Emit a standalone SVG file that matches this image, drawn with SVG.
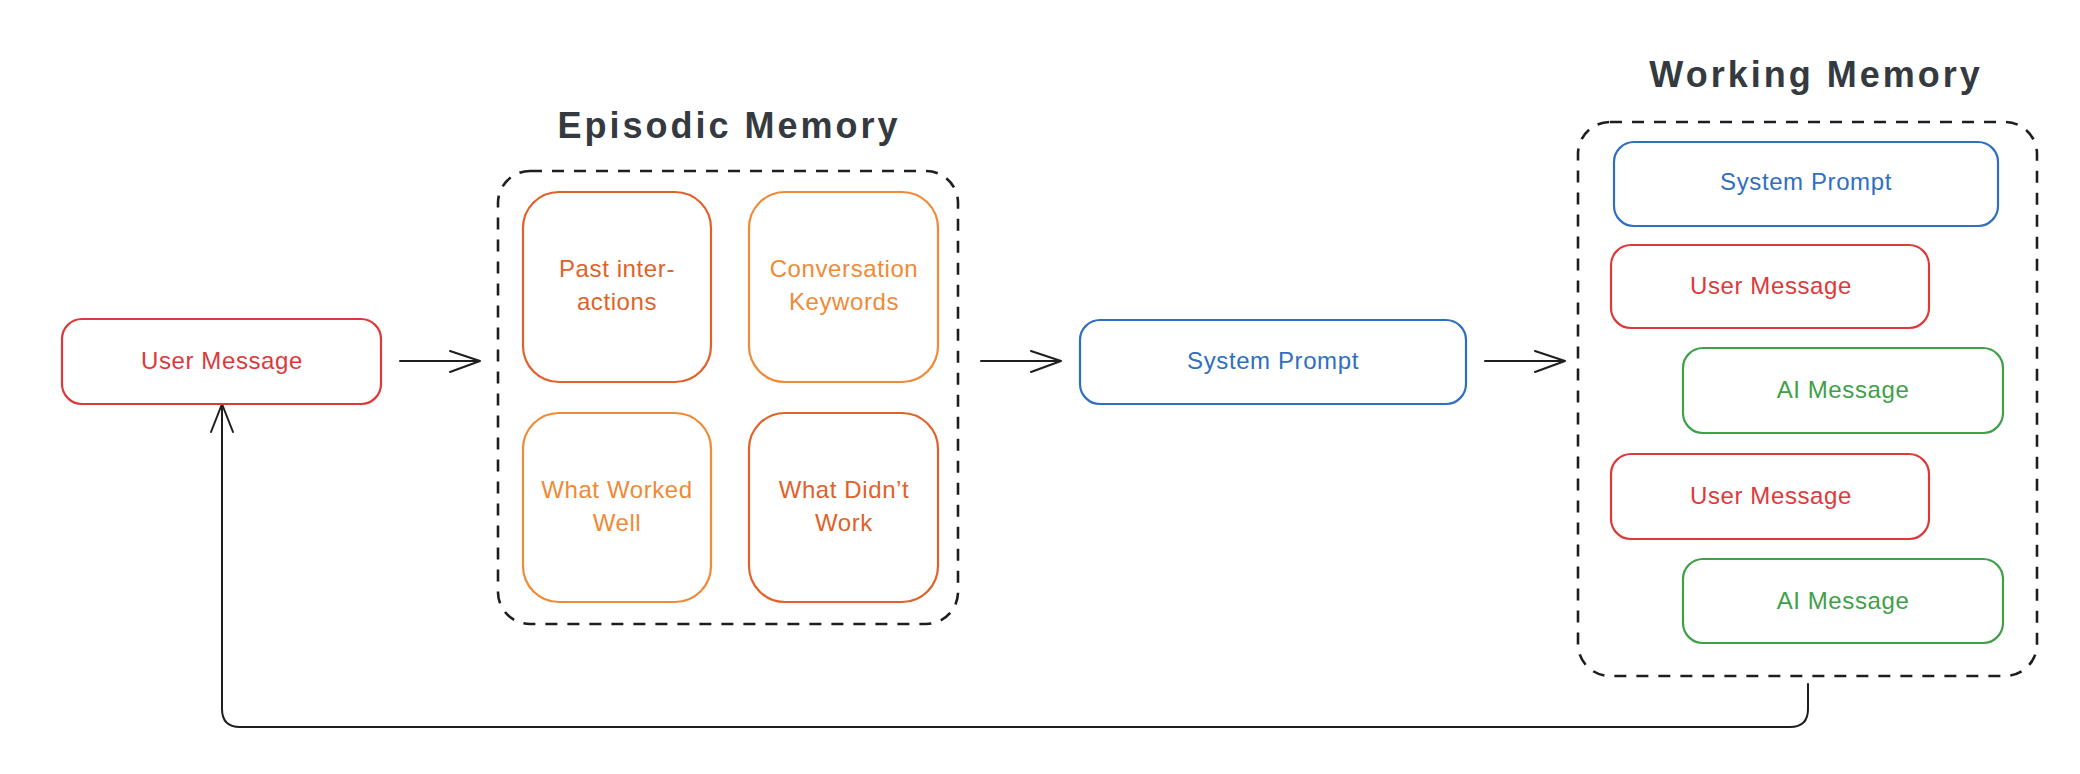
<svg xmlns="http://www.w3.org/2000/svg" width="2080" height="774" viewBox="0 0 2080 774">
  <defs>
    <style>
      .lbl { font-family: "Liberation Sans", Arial, sans-serif; font-size: 24px; text-anchor: middle; letter-spacing: 0.6px; }
      .title { font-family: "Liberation Sans", Arial, sans-serif; font-size: 36px; font-weight: bold; text-anchor: middle; letter-spacing: 3px; fill: #343a40; }
      .box { fill: #ffffff; stroke-width: 2.2; }
      .red { stroke: #dc3a3a; }
      .redt { fill: #dc3a3a; }
      .blue { stroke: #2f6fc0; }
      .bluet { fill: #2f6fc0; }
      .green { stroke: #40a048; }
      .greent { fill: #40a048; }
      .ord { stroke: #e0622a; }
      .ordt { fill: #e0622a; }
      .orl { stroke: #f08a36; }
      .orlt { fill: #f08a36; }
      .group { fill: none; stroke: #1e1e1e; stroke-width: 2.6; stroke-dasharray: 12 10; }
      .conn { fill: none; stroke: #1e1e1e; stroke-width: 2; stroke-linecap: round; stroke-linejoin: round; }
    </style>
  </defs>
  <rect x="0" y="0" width="2080" height="774" fill="#ffffff"/>

  <!-- Connectors -->
  <g id="connectors">
    <path class="conn" d="M400 361 H480 M450 351 L480 361 L450 372"/>
    <path class="conn" d="M981 361 H1061 M1031 351 L1061 361 L1031 372"/>
    <path class="conn" d="M1485 361 H1565 M1535 351 L1565 361 L1535 372"/>
    <path class="conn" d="M1808 684 V709 Q1808 727 1790 727 H240 Q222 727 222 709 V404 M211 432 L222 404 L233 432"/>
  </g>

  <!-- User Message (input) -->
  <g id="user-message">
    <rect class="box red" x="62" y="319" width="319" height="85" rx="20"/>
    <text class="lbl redt" x="222" y="369">User Message</text>
  </g>

  <!-- Episodic Memory group -->
  <g id="episodic-memory">
    <text class="title" x="729" y="138">Episodic Memory</text>
    <rect class="group" x="498" y="171" width="460" height="453" rx="32"/>
  </g>
  <g id="past-interactions">
    <rect class="box ord" x="523" y="192" width="188" height="190" rx="36"/>
    <text class="lbl ordt" x="617" y="277">Past inter-</text>
    <text class="lbl ordt" x="617" y="310">actions</text>
  </g>
  <g id="conversation-keywords">
    <rect class="box orl" x="749" y="192" width="189" height="190" rx="36"/>
    <text class="lbl orlt" x="844" y="277">Conversation</text>
    <text class="lbl orlt" x="844" y="310">Keywords</text>
  </g>
  <g id="what-worked-well">
    <rect class="box orl" x="523" y="413" width="188" height="189" rx="36"/>
    <text class="lbl orlt" x="617" y="498">What Worked</text>
    <text class="lbl orlt" x="617" y="531">Well</text>
  </g>
  <g id="what-didnt-work">
    <rect class="box ord" x="749" y="413" width="189" height="189" rx="36"/>
    <text class="lbl ordt" x="844" y="498">What Didn’t</text>
    <text class="lbl ordt" x="844" y="531">Work</text>
  </g>

  <!-- System Prompt -->
  <g id="system-prompt">
    <rect class="box blue" x="1080" y="320" width="386" height="84" rx="20"/>
    <text class="lbl bluet" x="1273" y="369">System Prompt</text>
  </g>

  <!-- Working Memory group -->
  <g id="working-memory">
    <text class="title" x="1816" y="87">Working Memory</text>
    <rect class="group" x="1578" y="122" width="459" height="554" rx="32"/>
  </g>
  <g id="wm-system-prompt">
    <rect class="box blue" x="1614" y="142" width="384" height="84" rx="20"/>
    <text class="lbl bluet" x="1806" y="190">System Prompt</text>
  </g>
  <g id="wm-user-message-1">
    <rect class="box red" x="1611" y="245" width="318" height="83" rx="20"/>
    <text class="lbl redt" x="1771" y="294">User Message</text>
  </g>
  <g id="wm-ai-message-1">
    <rect class="box green" x="1683" y="348" width="320" height="85" rx="20"/>
    <text class="lbl greent" x="1843" y="398">AI Message</text>
  </g>
  <g id="wm-user-message-2">
    <rect class="box red" x="1611" y="454" width="318" height="85" rx="20"/>
    <text class="lbl redt" x="1771" y="504">User Message</text>
  </g>
  <g id="wm-ai-message-2">
    <rect class="box green" x="1683" y="559" width="320" height="84" rx="20"/>
    <text class="lbl greent" x="1843" y="609">AI Message</text>
  </g>
</svg>
